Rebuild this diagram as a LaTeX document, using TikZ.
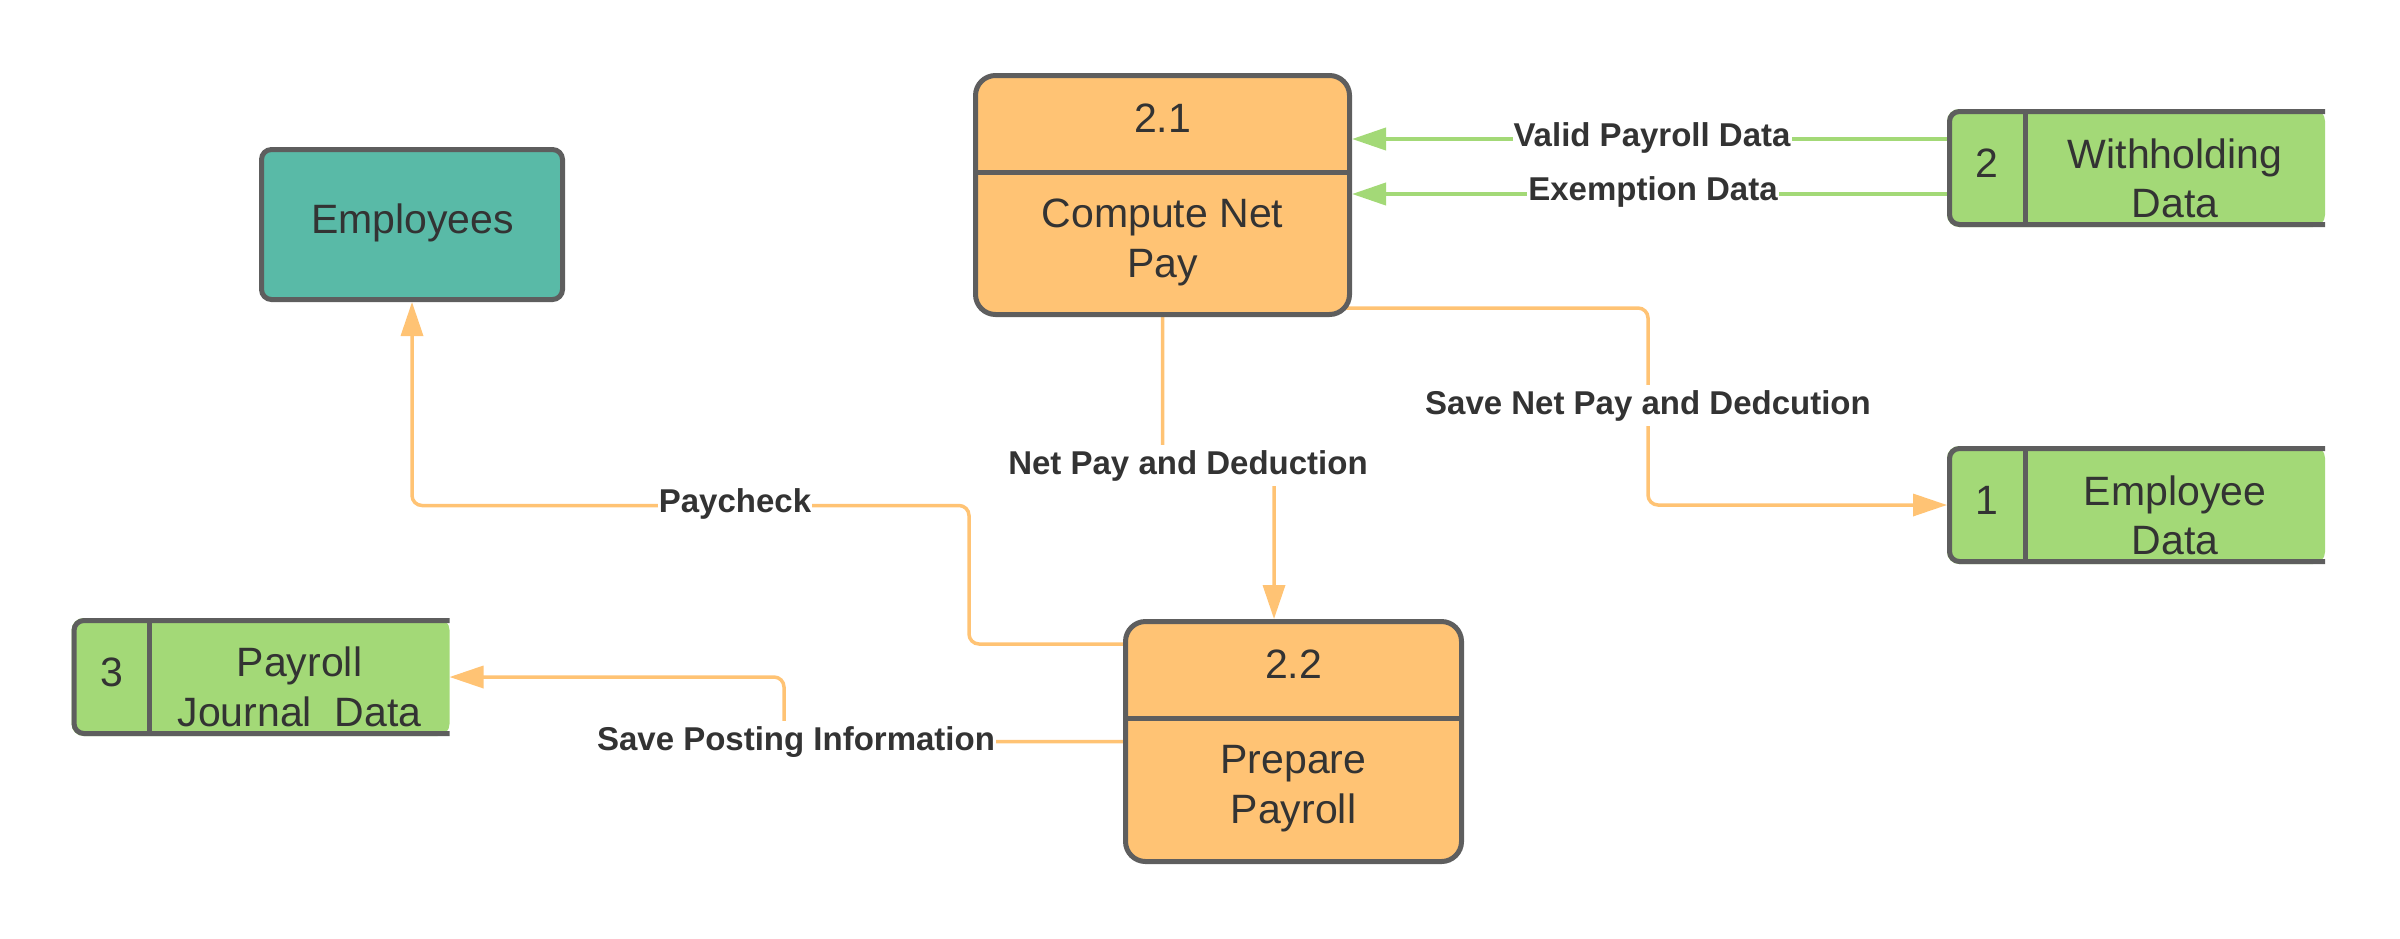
\documentclass[tikz,border=0pt]{standalone}
\usepackage{fontspec}
\setmainfont{Liberation Sans}
\usetikzlibrary{arrows.meta,calc,backgrounds}
\definecolor{procfill}{HTML}{FFC374}
\definecolor{bordc}{HTML}{5E5E5E}
\definecolor{tealfill}{HTML}{59BAA7}
\definecolor{storefill}{HTML}{A3D977}
\definecolor{txtc}{HTML}{333333}
\definecolor{flowor}{HTML}{FFC374}
\definecolor{flowgr}{HTML}{A3D977}
\begin{document}
\begin{tikzpicture}[x=1pt,y=-1pt,
  proc/.style={rectangle, draw=bordc, fill=procfill, line width=5pt, rounded corners=20pt, inner sep=0pt},
  ext/.style={rectangle, draw=bordc, fill=tealfill, line width=5pt, rounded corners=10pt, inner sep=0pt},
  storebg/.style={rectangle, fill=storefill, rounded corners=12pt, inner sep=0pt, outer sep=0pt, minimum width=378pt, minimum height=118pt},
  storeline/.style={draw=bordc, line width=5pt, rounded corners=10pt},
  divline/.style={draw=bordc, line width=5pt},
  txt/.style={text=txtc, font=\fontsize{41}{50}\selectfont, inner sep=0pt, anchor=base},
  flab/.style={text=txtc, font=\fontsize{33}{40}\selectfont\bfseries, fill=white, inner xsep=1pt, inner ysep=5pt, anchor=base},
  flowO/.style={draw=flowor, line width=3.5pt, rounded corners=10pt, -{Triangle[length=34pt,width=22pt]}},
  flowG/.style={draw=flowgr, line width=4pt, -{Triangle[length=34pt,width=22pt]}},
]
\useasboundingbox (0,0) rectangle (2400,938);

% processes and external entity
\node[proc, minimum width=374pt, minimum height=239pt] (p21) at (1162.5,195) {};
\node[proc, minimum width=336pt, minimum height=240pt] (p22) at (1293.5,741.5) {};
\node[ext, minimum width=301pt, minimum height=150pt] (emp) at (412,224.5) {};
\draw[divline] ($(p21.west)+(0,-23)$) -- ($(p21.east)+(0,-23)$);
\draw[divline] ($(p22.west)+(0,-23.5)$) -- ($(p22.east)+(0,-23.5)$);

% data stores
\node[storebg] (s2) at (2136,168) {};
\node[storebg] (s1) at (2136,505) {};
\node[storebg] (s3) at (260.5,677) {};
\foreach \s in {s1,s2,s3}{
  \draw[storeline] ($(\s.north east)+(0,2.5)$) -- ($(\s.north west)+(2.5,2.5)$) -- ($(\s.south west)+(2.5,-2.5)$) -- ($(\s.south east)+(0,-2.5)$);
  \draw[divline] ($(\s.north west)+(78,0)$) -- ($(\s.south west)+(78,0)$);
}

% texts
\node[txt] (p21n) at (1162.5,132) {2.1};
\node[txt] (p21a) at (1162.5,227) {Compute Net};
\node[txt] (p21b) at (1162.5,277) {Pay};
\node[txt] (p22n) at (1293.5,678) {2.2};
\node[txt] (p22a) at (1293.5,773) {Prepare};
\node[txt] (p22b) at (1293.5,823) {Payroll};
\node[txt] (empt) at (412.5,233) {Employees};
\node[txt] (s2n) at (1987,177) {2};
\node[txt] (s2a) at (2175,168) {Withholding};
\node[txt] (s2b) at (2175,217) {Data};
\node[txt] (s1n) at (1987,514) {1};
\node[txt] (s1a) at (2175,505) {Employee};
\node[txt] (s1b) at (2175,554) {Data};
\node[txt] (s3n) at (112,686) {3};
\node[txt] (s3a) at (299.5,676) {Payroll};
\node[txt] (s3b) at (299.5,726) {Journal\ \ Data};

% flows
\begin{scope}[on background layer]
\draw[flowG] ($(s2.west)+(0,-29)$) -- ($(p21.east)+(0,-56)$);
\draw[flowG] ($(s2.west)+(0,26)$) -- ($(p21.east)+(0,-1)$);
\draw[flowO] ($(p21.south east)+(-8,-9)$) -- (1648,308) -- (1648,505) -- (s1.west);
\draw[flowO] (p21.south) -- (1162.5,466) -- (1274,466) -- ($(p22.north)+(-19.5,0)$);
\draw[flowO] ($(p22.west)+(0,-97.5)$) -- (969,644) -- (969,505.5) -- (412,505.5) -- (emp.south);
\draw[flowO] (p22.west) -- (784,741.5) -- (784,677) -- (s3.east);
\end{scope}

% flow labels
\node[flab] (l1) at (1652,146) {Valid Payroll Data};
\node[flab] (l2) at (1653,200) {Exemption Data};
\node[flab] (l3) at (1648,414) {Save Net Pay and Dedcution};
\node[flab] (l4) at (1188,474) {Net Pay and Deduction};
\node[flab] (l5) at (735,512) {Paycheck};
\node[flab] (l6) at (796,750) {Save Posting Information};
\end{tikzpicture}
\end{document}
